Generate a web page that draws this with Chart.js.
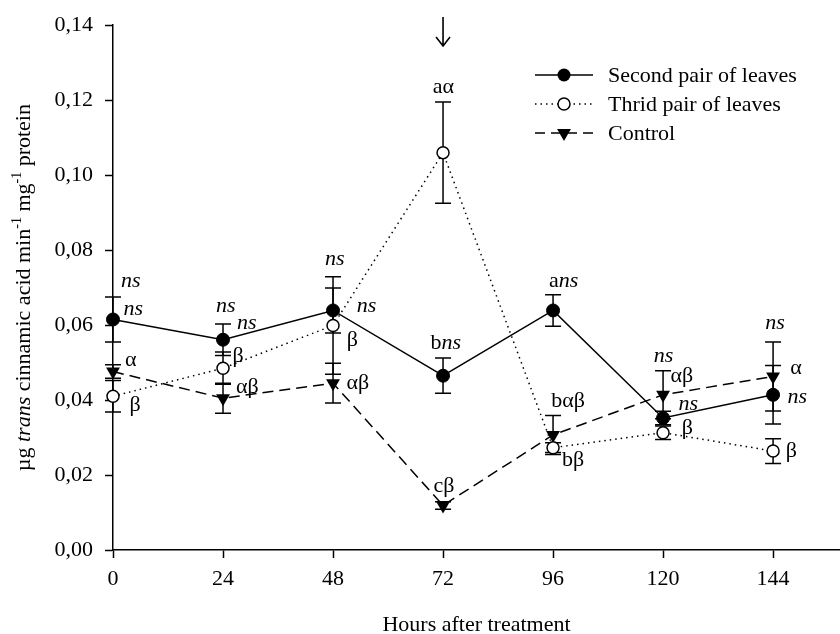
<!DOCTYPE html>
<html><head><meta charset="utf-8">
<script src="https://cdn.jsdelivr.net/npm/chart.js@4.4.0/dist/chart.umd.min.js"></script>
<style>html,body{margin:0;padding:0;background:#fff}#wrap{width:840px;height:634px;position:relative}</style>
</head><body><div id="wrap"><canvas id="c" width="840" height="634"></canvas></div>
<script>
// ---------- data ----------
const hours = [0, 24, 48, 72, 96, 120, 144];
const secondPair    = [0.0615, 0.0561, 0.0639, 0.0465, 0.0639, 0.0352, 0.0414];
const secondPairErr = [0.0060, 0.0042, 0.0060, 0.0047, 0.0042, 0.0018, 0.0078];
const thirdPair     = [0.0410, 0.0485, 0.0599, 0.1060, 0.0273, 0.0313, 0.0264];
const thirdPairErr  = [0.0042, 0.0043, 0.0130, 0.0135, 0.0013, 0.0018, 0.0033];
const control       = [0.0476, 0.0405, 0.0445, 0.0119, 0.0307, 0.0414, 0.0463];
const controlErr    = [0.0018, 0.0040, 0.0053, 0.0010, 0.0052, 0.0064, 0.0092];
const xTicks = [0, 24, 48, 72, 96, 120, 144];
const yTicks = [0, 0.02, 0.04, 0.06, 0.08, 0.10, 0.12, 0.14];
const seriesNames = ['Second pair of leaves', 'Thrid pair of leaves', 'Control'];
const xTitle = 'Hours after treatment';
const arrowHour = 72;
// significance letters: [hour, value, text]  (*...* = italic)
const letterLabels = [
  [3.9, 0.0717, '*ns*'], [4.4, 0.0642, '*ns*'], [3.9, 0.0507, 'α'], [4.8, 0.0386, 'β'],
  [24.6, 0.0650, '*ns*'], [29.2, 0.0606, '*ns*'], [27.3, 0.0517, 'β'], [29.3, 0.0434, 'αβ'],
  [48.4, 0.0776, '*ns*'], [55.3, 0.0650, '*ns*'], [52.2, 0.0560, 'β'], [53.4, 0.0445, 'αβ'],
  [72.1, 0.1234, 'aα'], [72.6, 0.0551, 'b*ns*'], [72.2, 0.0169, 'cβ'],
  [98.3, 0.0718, 'a*ns*'], [99.3, 0.0398, 'bαβ'], [100.4, 0.0240, 'bβ'],
  [120.1, 0.0516, '*ns*'], [124.1, 0.0463, 'αβ'], [125.5, 0.0388, '*ns*'], [125.3, 0.0326, 'β'],
  [144.4, 0.0604, '*ns*'], [149.0, 0.0485, 'α'], [149.3, 0.0408, '*ns*'], [148.0, 0.0264, 'β']
];

const FONT = 'Liberation Serif';
const FS = 22;

function parseRich(t) {
  const segs = []; const parts = t.split('*');
  parts.forEach((p, i) => { if (p) segs.push({ t: p, i: i % 2 === 1 }); });
  return segs;
}
function drawRich(ctx, text, cx, cy) {
  const segs = parseRich(text);
  let w = 0;
  segs.forEach(s => { ctx.font = (s.i ? 'italic ' : '') + FS + 'px "' + FONT + '"'; s.w = ctx.measureText(s.t).width; w += s.w; });
  let x = cx - w / 2;
  ctx.textBaseline = 'middle'; ctx.textAlign = 'left';
  segs.forEach(s => { ctx.font = (s.i ? 'italic ' : '') + FS + 'px "' + FONT + '"'; ctx.fillText(s.t, x, cy); x += s.w; });
}

// stretch the plot area to the right edge of the canvas (the axis runs off the picture)
const fullRight = {
  id: 'fullRight',
  afterLayout(chart) {
    const xs = chart.scales.x;
    chart.chartArea.right = chart.width;
    chart.chartArea.width = chart.width - chart.chartArea.left;
    xs.right = chart.width;
    xs.width = chart.width - xs.left;
    xs.configure();
  }
};

const errorBars = {
  id: 'errorBars',
  beforeDatasetsDraw(chart) {
    const { ctx, scales: { x, y } } = chart;
    ctx.save();
    ctx.strokeStyle = '#000'; ctx.lineWidth = 1.5; ctx.setLineDash([]);
    chart.data.datasets.forEach(ds => {
      ds.data.forEach((p, i) => {
        const e = ds.errors[i];
        const px = x.getPixelForValue(p.x);
        const y1 = y.getPixelForValue(p.y + e), y2 = y.getPixelForValue(p.y - e);
        ctx.beginPath();
        ctx.moveTo(px, y1); ctx.lineTo(px, y2);
        ctx.moveTo(px - 8, y1); ctx.lineTo(px + 8, y1);
        ctx.moveTo(px - 8, y2); ctx.lineTo(px + 8, y2);
        ctx.stroke();
      });
    });
    ctx.restore();
  }
};

function marker(ctx, kind, x, y) {
  ctx.save(); ctx.setLineDash([]); ctx.strokeStyle = '#000';
  if (kind === 0) { ctx.beginPath(); ctx.arc(x, y, 6.5, 0, Math.PI * 2); ctx.fillStyle = '#000'; ctx.fill(); }
  else if (kind === 1) { ctx.beginPath(); ctx.arc(x, y, 6, 0, Math.PI * 2); ctx.fillStyle = '#fff'; ctx.fill(); ctx.lineWidth = 1.5; ctx.stroke(); }
  else {
    const r = 8; ctx.beginPath();
    for (let k = 0; k < 3; k++) { const a = Math.PI + k * 2 * Math.PI / 3; const px = x + Math.sin(a) * r, py = y - Math.cos(a) * r; k ? ctx.lineTo(px, py) : ctx.moveTo(px, py); }
    ctx.closePath(); ctx.fillStyle = '#000'; ctx.fill();
  }
  ctx.restore();
}

const decorations = {
  id: 'decorations',
  afterDraw(chart) {
    const { ctx, scales: { x, y }, chartArea } = chart;
    ctx.save();
    ctx.fillStyle = '#000';
    // letters
    letterLabels.forEach(l => drawRich(ctx, l[2], x.getPixelForValue(l[0]), y.getPixelForValue(l[1])));
    // arrow
    const ax = x.getPixelForValue(arrowHour);
    ctx.strokeStyle = '#000'; ctx.lineWidth = 1.6; ctx.setLineDash([]);
    ctx.beginPath(); ctx.moveTo(ax, 17); ctx.lineTo(ax, 46);
    ctx.moveTo(ax - 7, 37); ctx.lineTo(ax, 46); ctx.lineTo(ax + 7, 37); ctx.stroke();
    // legend
    const rows = [75, 104, 133];
    const dashes = [[], [1.5, 4], [10, 6]];
    rows.forEach((ry, k) => {
      ctx.save(); ctx.strokeStyle = '#000'; ctx.lineWidth = 1.5; ctx.setLineDash(dashes[k]);
      ctx.beginPath(); ctx.moveTo(535, ry); ctx.lineTo(593, ry); ctx.stroke(); ctx.restore();
      marker(ctx, k, 564, ry);
      ctx.fillStyle = '#000'; ctx.font = FS + 'px "' + FONT + '"'; ctx.textAlign = 'left'; ctx.textBaseline = 'middle';
      ctx.fillText(seriesNames[k], 608, ry + 1);
    });
    // x title
    ctx.font = FS + 'px "' + FONT + '"'; ctx.textAlign = 'center'; ctx.textBaseline = 'alphabetic';
    ctx.fillText(xTitle, (chartArea.left + chartArea.right) / 2, 631);
    // y title (rotated, rich)
    const segs = [
      { t: 'µg ', f: 'n' }, { t: 'trans', f: 'i' }, { t: ' cinnamic acid min', f: 'n' }, { t: '-1', f: 's' },
      { t: ' mg', f: 'n' }, { t: '-1', f: 's' }, { t: ' protein', f: 'n' }
    ];
    const fnt = s => s.f === 's' ? '14px "' + FONT + '"' : (s.f === 'i' ? 'italic ' : '') + FS + 'px "' + FONT + '"';
    let w = 0; segs.forEach(s => { ctx.font = fnt(s); s.w = ctx.measureText(s.t).width; w += s.w; });
    ctx.translate(24, (chartArea.top + chartArea.bottom) / 2); ctx.rotate(-Math.PI / 2);
    ctx.textAlign = 'left'; ctx.textBaseline = 'middle';
    let px = -w / 2;
    segs.forEach(s => { ctx.font = fnt(s); ctx.fillText(s.t, px, s.f === 's' ? -7 : 0); px += s.w; });
    ctx.restore();
  }
};

const mk = (vals) => hours.map((h, i) => ({ x: h, y: vals[i] }));
const axisFont = { family: FONT, size: FS };

new Chart(document.getElementById('c'), {
  type: 'line',
  data: {
    datasets: [
      { label: seriesNames[0], data: mk(secondPair), errors: secondPairErr, borderColor: '#000', borderWidth: 1.5,
        pointStyle: 'circle', pointRadius: 6.5, pointBackgroundColor: '#000', pointBorderColor: '#000', pointBorderWidth: 1, tension: 0, clip: false, fill: false },
      { label: seriesNames[1], data: mk(thirdPair), errors: thirdPairErr, borderColor: '#000', borderWidth: 1.5, borderDash: [1.5, 4],
        pointStyle: 'circle', pointRadius: 6, pointBackgroundColor: '#fff', pointBorderColor: '#000', pointBorderWidth: 1.5, tension: 0, clip: false, fill: false },
      { label: seriesNames[2], data: mk(control), errors: controlErr, borderColor: '#000', borderWidth: 1.5, borderDash: [11, 6],
        pointStyle: 'triangle', pointRotation: 180, pointRadius: 8, pointBackgroundColor: '#000', pointBorderColor: '#000', pointBorderWidth: 0, tension: 0, clip: false, fill: false }
    ]
  },
  options: {
    responsive: false, animation: false, devicePixelRatio: 1,
    layout: { padding: { top: 20, left: 0, right: 0, bottom: 0 } },
    plugins: { legend: { display: false }, tooltip: { enabled: false }, title: { display: false } },
    scales: {
      x: {
        type: 'linear', min: 0, max: 158.6,
        afterBuildTicks: s => { s.ticks = xTicks.map(v => ({ value: v })); },
        afterFit: s => { s.height = 84; },
        grid: { drawOnChartArea: false, drawTicks: true, tickLength: 8, tickColor: '#000', tickWidth: 1.5 },
        border: { display: true, color: '#000', width: 1.5 },
        ticks: { color: '#000', font: axisFont, padding: 8, maxRotation: 0, autoSkip: false, callback: v => String(v) }
      },
      y: {
        type: 'linear', min: 0, max: 0.14,
        afterBuildTicks: s => { s.ticks = yTicks.map(v => ({ value: v })); },
        afterFit: s => { s.width = 113; },
        grid: { drawOnChartArea: false, drawTicks: true, tickLength: 8, tickColor: '#000', tickWidth: 1.5 },
        border: { display: true, color: '#000', width: 1.5 },
        ticks: { color: '#000', font: axisFont, padding: 12, autoSkip: false, callback: v => v.toFixed(2).replace('.', ',') }
      }
    }
  },
  plugins: [fullRight, errorBars, decorations]
});
</script>
</body></html>
